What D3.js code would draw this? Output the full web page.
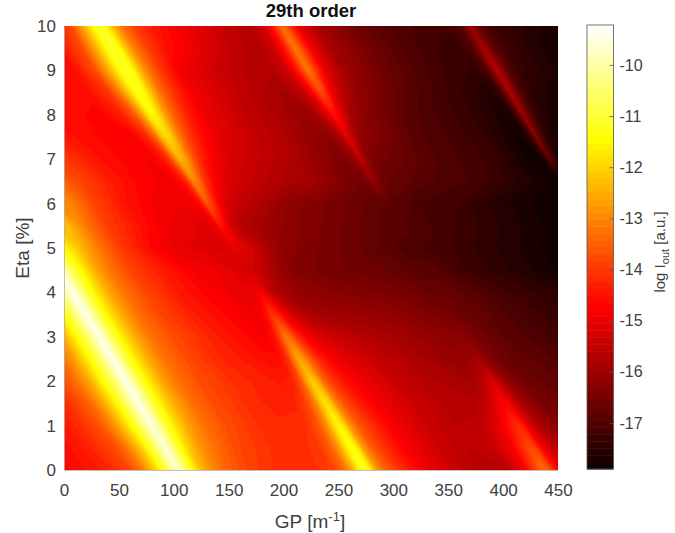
<!DOCTYPE html>
<html>
<head>
<meta charset="utf-8">
<script src="https://cdn.jsdelivr.net/npm/d3@7"></script>
<style>
body { margin: 0; background: #fff; }
text { font-family: "Liberation Sans", Arial, sans-serif; fill: #404040; }
</style>
</head>
<body>
<div id="chart"></div>
<script>
var width = 675,
    height = 533;

var gpTicks = [0, 50, 100, 150, 200, 250, 300, 350, 400, 450];
var etaTicks = [0, 1, 2, 3, 4, 5, 6, 7, 8, 9, 10];
var barTicks = [-10, -11, -12, -13, -14, -15, -16, -17];
var barRange = [-17.9, -9.22];
var colorValues = [-17.9, -14.7, -11.45, -9.22];
var colorNames = ["#0b0000", "#ff0000", "#ffff00", "#ffffff"];

// the ridges run diagonally, so samples are taken along lines of GP + ridgeSlope*eta
var ridgeSlope = 24;
var phaseValues = [0,20,40,60,72,84,92,98,104,110,116,124,136,150,170,200,225,
  245,256,264,269,274,279,284,292,304,320,
  350,380,405,420,430,434,438,442,446,454,470,
  500,530,560,590,600,606,610,614,620,630,650,670,690];
var etaValues = [10,9.5,9,8.5,8,7.5,7,6.5,6,5.5,5,4.5,4,3.5,3,2.5,2,1.5,1,0.5,0];

// log I_out: one row per eta, one column per phase value
var logI = [
[-14.5,-14.5,-14.5,-14.5,-14.5,-14.5,-14.5,-14.5,-14.5,-14.5,-14.5,-14.5,-14.5,-14.5,-14.5,-14.5,-14.6, -13.9,-12.7,-11.7,-11.2,-11.1,-11.6,-12.3,-13.2,-13.9,-14.4, -14.9,-15.4,-15.7,-15.4,-14.4,-13.8,-13.3,-13.6,-14.1,-15.0,-15.8, -16.5,-16.9,-17.1,-17.2,-17.0,-16.5,-16.1,-16.4,-16.9,-17.2,-17.4,-17.6,-17.7],
[-14.5,-14.5,-14.5,-14.5,-14.5,-14.5,-14.5,-14.5,-14.5,-14.5,-14.5,-14.5,-14.5,-14.5,-14.5,-14.5,-14.5, -13.7,-12.6,-11.7,-11.2,-11.1,-11.5,-12.2,-13.1,-13.9,-14.5, -15.0,-15.5,-15.7,-15.3,-14.3,-13.7,-13.2,-13.5,-14.0,-14.9,-15.8, -16.4,-16.9,-17.2,-17.3,-17.0,-16.3,-15.9,-16.2,-16.8,-17.2,-17.5,-17.7,-17.8],
[-14.6,-14.6,-14.6,-14.6,-14.6,-14.6,-14.6,-14.6,-14.6,-14.6,-14.6,-14.6,-14.6,-14.6,-14.6,-14.6,-14.6, -13.7,-12.6,-11.7,-11.2,-11.2,-11.5,-12.2,-13.1,-14.0,-14.8, -15.3,-15.6,-15.7,-15.3,-14.3,-13.7,-13.2,-13.5,-14.1,-15.0,-15.9, -16.5,-16.9,-17.2,-17.4,-17.1,-16.3,-15.7,-16.0,-16.8,-17.3,-17.5,-17.7,-17.8],
[-14.6,-14.6,-14.6,-14.6,-14.6,-14.6,-14.6,-14.6,-14.6,-14.6,-14.6,-14.6,-14.6,-14.6,-14.6,-14.6,-14.6, -14.0,-13.0,-12.0,-11.4,-11.3,-11.7,-12.4,-13.3,-14.1,-14.8, -15.3,-15.7,-15.9,-15.6,-14.8,-14.2,-13.8,-14.0,-14.7,-15.4,-16.1, -16.6,-17.0,-17.3,-17.6,-17.4,-16.6,-15.8,-16.2,-17.0,-17.5,-17.7,-17.8,-17.8],
[-14.6,-14.6,-14.6,-14.6,-14.6,-14.6,-14.6,-14.6,-14.6,-14.6,-14.6,-14.6,-14.6,-14.6,-14.6,-14.6,-14.7, -14.3,-13.6,-12.6,-11.7,-11.5,-12.0,-12.7,-13.5,-14.3,-14.9, -15.4,-15.7,-16.0,-15.9,-15.3,-14.9,-14.5,-14.8,-15.2,-15.9,-16.3, -16.8,-17.1,-17.3,-17.7,-17.6,-16.9,-16.0,-16.5,-17.2,-17.6,-17.8,-17.8,-17.8],
[-14.3,-14.3,-14.3,-14.3,-14.3,-14.3,-14.3,-14.3,-14.3,-14.3,-14.3,-14.3,-14.3,-14.3,-14.3,-14.6,-14.7, -14.7,-14.2,-13.3,-12.3,-11.9,-12.3,-13.0,-13.8,-14.5,-15.0, -15.4,-15.7,-16.1,-16.2,-15.9,-15.6,-15.0,-15.5,-15.9,-16.2,-16.4, -16.9,-17.1,-17.3,-17.8,-17.7,-17.2,-16.3,-16.9,-17.5,-17.7,-17.8,-17.8,-17.8],
[-14.0,-14.0,-14.0,-14.0,-14.0,-14.0,-14.0,-14.0,-14.0,-14.0,-14.0,-14.0,-14.0,-14.0,-14.0,-14.5,-14.7, -14.8,-14.6,-14.0,-13.1,-12.4,-12.7,-13.4,-14.2,-14.8,-15.2, -15.5,-15.8,-16.2,-16.4,-16.2,-16.0,-15.5,-15.9,-16.3,-16.5,-16.6, -16.9,-17.1,-17.3,-17.8,-17.8,-17.5,-16.8,-17.2,-17.7,-17.8,-17.9,-17.9,-17.9],
[-13.3,-13.3,-13.3,-13.3,-13.3,-13.3,-13.3,-13.3,-13.3,-13.3,-13.3,-13.3,-13.3,-13.3,-13.8,-14.4,-14.7, -14.8,-14.8,-14.5,-14.0,-13.0,-13.3,-14.0,-14.7,-15.1,-15.4, -15.7,-15.9,-16.3,-16.5,-16.5,-16.3,-16.1,-16.3,-16.6,-16.7,-16.8, -17.0,-17.1,-17.4,-17.7,-17.9,-17.9,-17.9,-17.9,-17.9,-17.9,-17.9,-17.9,-17.9],
[-12.9,-12.9,-12.9,-12.9,-12.9,-12.9,-12.9,-12.9,-12.9,-12.9,-12.9,-12.9,-12.9,-13.0,-13.8,-14.5,-14.8, -14.9,-14.9,-14.8,-14.5,-13.6,-14.0,-14.6,-15.2,-15.5,-15.7, -16.2,-16.4,-16.6,-16.7,-16.8,-16.8,-16.8,-16.8,-16.9,-16.9,-17.1, -17.2,-17.5,-17.7,-17.9,-17.9,-17.9,-17.9,-17.9,-17.9,-17.9,-17.9,-17.9,-17.9],
[-12.2,-12.2,-12.2,-12.2,-12.2,-12.2,-12.2,-12.2,-12.2,-12.2,-12.2,-12.2,-12.3,-13.1,-13.9,-14.5,-14.9, -15.0,-15.1,-15.1,-15.0,-14.5,-14.7,-15.3,-15.6,-15.8,-16.0, -16.3,-16.5,-16.7,-16.8,-16.9,-16.9,-16.9,-16.9,-17.0,-17.0,-17.1, -17.3,-17.5,-17.7,-17.9,-17.9,-17.9,-17.9,-17.9,-17.9,-17.9,-17.9,-17.9,-17.9],
[-11.2,-11.2,-11.2,-11.2,-11.2,-11.2,-11.2,-11.2,-11.2,-11.2,-11.3,-11.7,-12.4,-13.1,-13.9,-14.7,-15.0, -15.1,-15.2,-15.2,-15.1,-15.0,-15.0,-15.1,-15.3,-15.7,-16.2, -16.4,-16.6,-16.8,-16.9,-17.0,-17.0,-17.0,-17.0,-17.1,-17.1,-17.2, -17.4,-17.6,-17.8,-17.9,-17.9,-17.9,-17.9,-17.9,-17.9,-17.9,-17.9,-17.9,-17.9],
[-12.0,-12.0,-12.0,-12.0,-12.0,-12.0,-11.0,-10.2,-9.6,-10.1,-10.8,-11.5,-12.5,-13.2,-13.9,-14.4,-14.8, -14.9,-15.0,-15.1,-15.2,-15.3,-15.3,-15.4,-15.6,-16.0,-16.3, -16.5,-16.6,-16.7,-16.8,-16.9,-16.9,-16.9,-16.9,-16.9,-17.0,-17.2, -17.4,-17.6,-17.8,-17.9,-17.9,-17.9,-17.9,-17.9,-17.9,-17.9,-17.9,-17.9,-17.9],
[-11.0,-11.0,-11.0,-11.0,-11.0,-11.2,-10.5,-9.9,-9.4,-10.0,-10.8,-11.6,-12.5,-13.2,-13.8,-14.4,-14.7, -14.9,-15.0,-15.0,-15.0,-14.8,-15.0,-15.4,-15.8,-16.0,-16.2, -16.3,-16.4,-16.5,-16.6,-16.7,-16.7,-16.7,-16.7,-16.7,-16.8,-16.9, -17.2,-17.4,-17.6,-17.9,-17.9,-17.9,-17.9,-17.9,-17.9,-17.9,-17.9,-17.9,-17.9],
[-12.8,-12.8,-12.8,-12.8,-12.5,-11.4,-10.6,-10.0,-9.4,-10.0,-10.8,-11.6,-12.5,-13.2,-13.8,-14.3,-14.6, -14.8,-14.9,-14.8,-14.5,-14.0,-14.3,-14.8,-15.3,-15.7,-15.9, -16.0,-16.1,-16.3,-16.4,-16.5,-16.5,-16.5,-16.6,-16.6,-16.7,-16.8, -17.1,-17.3,-17.5,-17.9,-17.9,-17.9,-17.9,-17.9,-17.9,-17.9,-17.9,-17.9,-17.9],
[-13.5,-13.5,-13.5,-13.5,-12.5,-11.4,-10.7,-10.0,-9.4,-10.0,-10.8,-11.6,-12.5,-13.2,-13.7,-14.2,-14.5, -14.7,-14.8,-14.5,-13.8,-13.2,-13.5,-14.1,-14.7,-15.1,-15.4, -15.7,-15.9,-16.1,-16.2,-16.2,-16.2,-16.3,-16.3,-16.4,-16.5,-16.8, -17.0,-17.3,-17.5,-17.9,-17.9,-17.9,-17.9,-17.9,-17.9,-17.9,-17.9,-17.9,-17.9],
[-14.0,-14.0,-14.0,-13.2,-12.5,-11.4,-10.7,-10.0,-9.4,-10.0,-10.8,-11.6,-12.5,-13.2,-13.7,-14.2,-14.4, -14.6,-14.6,-14.1,-13.2,-12.6,-12.9,-13.5,-14.2,-14.8,-15.1, -15.5,-15.8,-16.0,-16.1,-16.0,-16.0,-15.9,-16.1,-16.3,-16.5,-16.7, -16.9,-17.2,-17.4,-17.9,-17.9,-17.9,-17.9,-17.9,-17.9,-17.9,-17.9,-17.9,-17.9],
[-14.2,-14.2,-14.0,-13.2,-12.5,-11.4,-10.7,-10.0,-9.4,-10.0,-10.8,-11.6,-12.5,-13.2,-13.7,-14.1,-14.3, -14.4,-14.3,-13.6,-12.7,-12.1,-12.5,-13.3,-14.0,-14.5,-14.9, -15.4,-15.7,-15.8,-15.9,-15.6,-15.4,-15.2,-15.4,-15.7,-16.2,-16.6, -16.8,-17.1,-17.4,-17.9,-17.9,-17.9,-17.9,-17.9,-17.9,-17.9,-17.9,-17.9,-17.9],
[-14.5,-14.5,-14.1,-13.4,-12.6,-11.5,-10.7,-10.0,-9.4,-10.0,-10.8,-11.6,-12.5,-13.2,-13.7,-14.1,-14.3, -14.3,-13.9,-13.2,-12.4,-11.8,-12.2,-13.0,-13.7,-14.3,-14.8, -15.3,-15.6,-15.7,-15.5,-15.0,-14.8,-14.7,-14.9,-15.3,-15.9,-16.4, -16.7,-17.0,-17.4,-17.9,-17.9,-17.9,-17.9,-17.9,-17.9,-17.9,-17.9,-17.9,-17.9],
[-14.6,-14.5,-14.1,-13.5,-12.7,-11.6,-10.8,-10.1,-9.5,-10.1,-10.9,-11.7,-12.6,-13.2,-13.7,-14.1,-14.2, -14.1,-13.6,-12.8,-12.0,-11.5,-11.9,-12.8,-13.6,-14.1,-14.7, -15.3,-15.6,-15.5,-15.0,-14.5,-14.3,-14.2,-14.4,-14.9,-15.6,-16.2, -16.7,-17.0,-17.4,-17.9,-17.9,-17.9,-17.9,-17.9,-17.9,-17.9,-17.9,-17.9,-17.9],
[-14.6,-14.5,-14.2,-13.7,-13.0,-11.9,-11.0,-10.2,-9.6,-10.2,-11.1,-12.0,-12.8,-13.3,-13.8,-14.1,-14.2, -14.0,-13.4,-12.5,-11.7,-11.3,-11.7,-12.7,-13.5,-14.1,-14.7, -15.3,-15.6,-15.4,-14.8,-14.1,-13.9,-13.8,-14.0,-14.6,-15.3,-16.0, -16.5,-17.0,-17.4,-17.9,-17.9,-17.9,-17.9,-17.9,-17.9,-17.9,-17.9,-17.9,-17.9],
[-14.7,-14.5,-14.3,-13.8,-13.1,-12.0,-11.1,-10.2,-9.7,-10.3,-11.3,-12.3,-13.0,-13.5,-13.9,-14.2,-14.2, -13.9,-13.3,-12.4,-11.6,-11.1,-11.6,-12.6,-13.4,-14.0,-14.6, -15.3,-15.7,-15.6,-14.8,-13.9,-13.5,-13.3,-13.6,-14.2,-15.0,-15.8, -16.5,-17.0,-17.4,-17.9,-17.9,-17.9,-17.9,-17.9,-17.9,-17.9,-17.9,-17.9,-17.9]
];

var margin = {left: 64, top: 26, right: 117, bottom: 63};
var plotW = width - margin.left - margin.right,
    plotH = height - margin.top - margin.bottom;

var svg = d3.select("#chart").append("svg")
    .attr("width", width)
    .attr("height", height)
    .style("display", "block");

var x = d3.scaleLinear().domain([0, 450]).range([0, plotW]);
var y = d3.scaleLinear().domain([0, 10]).range([plotH, 0]);
var color = d3.scaleLinear().domain(colorValues).range(colorNames).clamp(true);

// grid indices from d3.contours back to data units (values sit on cell centres)
var gridPhase = d3.scaleLinear()
    .domain(phaseValues.map(function(d, i) { return i + 0.5; }))
    .range(phaseValues);
var gridEta = d3.scaleLinear()
    .domain(etaValues.map(function(d, i) { return i + 0.5; }))
    .range(etaValues);

var levels = 64;
var step = (barRange[1] - barRange[0]) / levels;
var thresholds = d3.range(levels).map(function(i) { return barRange[0] + i * step; });

var contours = d3.contours()
    .size([phaseValues.length, etaValues.length])
    .thresholds(thresholds)
    .smooth(true)(logI.flat());

var path = d3.geoPath(d3.geoTransform({
  point: function(px, py) {
    var eta = gridEta(py);
    this.stream.point(x(gridPhase(px) - ridgeSlope * eta), y(eta));
  }
}));

svg.append("clipPath").attr("id", "plotclip")
  .append("rect").attr("width", plotW).attr("height", plotH);

var plot = svg.append("g")
    .attr("transform", "translate(" + margin.left + "," + margin.top + ")");

plot.append("g")
    .attr("clip-path", "url(#plotclip)")
  .selectAll("path")
  .data(contours)
  .join("path")
    .attr("d", path)
    .attr("fill", function(d) { return color(d.value + step / 2); })
    .attr("stroke", function(d) { return color(d.value + step / 2); })
    .attr("stroke-width", 0.4);

// axes
var xAxis = plot.append("g")
    .attr("transform", "translate(0," + plotH + ")")
    .call(d3.axisBottom(x).tickValues(gpTicks).tickSize(0).tickPadding(14));
var yAxis = plot.append("g")
    .call(d3.axisLeft(y).tickValues(etaTicks).tickSize(0).tickPadding(8));

[xAxis, yAxis].forEach(function(a) {
  a.selectAll("text").attr("font-size", 17).attr("font-family", null);
  a.select(".domain").attr("stroke", "#b0b0b0").attr("stroke-width", 0.8);
});

svg.append("text")
    .attr("x", 311).attr("y", 17)
    .attr("text-anchor", "middle")
    .attr("font-size", 18.5)
    .attr("font-weight", "bold")
    .style("fill", "#111")
    .text("29th order");

var xLabel = svg.append("text")
    .attr("x", 310).attr("y", 528)
    .attr("text-anchor", "middle")
    .attr("font-size", 19);
xLabel.append("tspan").text("GP [m");
xLabel.append("tspan").attr("dy", -7).attr("font-size", 13).text("-1");
xLabel.append("tspan").attr("dy", 7).text("]");

svg.append("text")
    .attr("transform", "translate(29,248) rotate(-90)")
    .attr("text-anchor", "middle")
    .attr("font-size", 19)
    .text("Eta [%]");

// colorbar
var barX = 587, barW = 26.5;
var barScale = d3.scaleLinear().domain(barRange).range([plotH, 0]);
var bar = svg.append("g")
    .attr("transform", "translate(" + barX + "," + (margin.top - 1) + ")");

bar.selectAll("rect.band")
  .data(thresholds)
  .join("rect")
    .attr("class", "band")
    .attr("x", 0)
    .attr("width", barW)
    .attr("y", function(d) { return barScale(d + step); })
    .attr("height", function(d) { return barScale(d) - barScale(d + step) + 0.5; })
    .attr("fill", function(d) { return color(d + step / 2); });

bar.append("rect")
    .attr("width", barW).attr("height", plotH)
    .attr("fill", "none").attr("stroke", "#555").attr("stroke-width", 0.8);

var barAxis = bar.append("g")
    .attr("transform", "translate(" + barW + ",0)")
    .call(d3.axisRight(barScale).tickValues(barTicks).tickFormat(d3.format("d")).tickSize(-4).tickPadding(6));
barAxis.select(".domain").remove();
barAxis.selectAll("line").attr("stroke", "#555").attr("stroke-width", 0.8);
barAxis.selectAll("text").attr("font-size", 16).attr("font-family", null)
    .text(function(d) { return "-" + Math.abs(d); });

var barLabel = svg.append("text")
    .attr("transform", "translate(665,252) rotate(-90)")
    .attr("text-anchor", "middle")
    .attr("font-size", 15);
barLabel.append("tspan").text("log I");
barLabel.append("tspan").attr("dy", 4).attr("font-size", 11).text("out");
barLabel.append("tspan").attr("dy", -4).text(" [a.u.]");
</script>
</body>
</html>
